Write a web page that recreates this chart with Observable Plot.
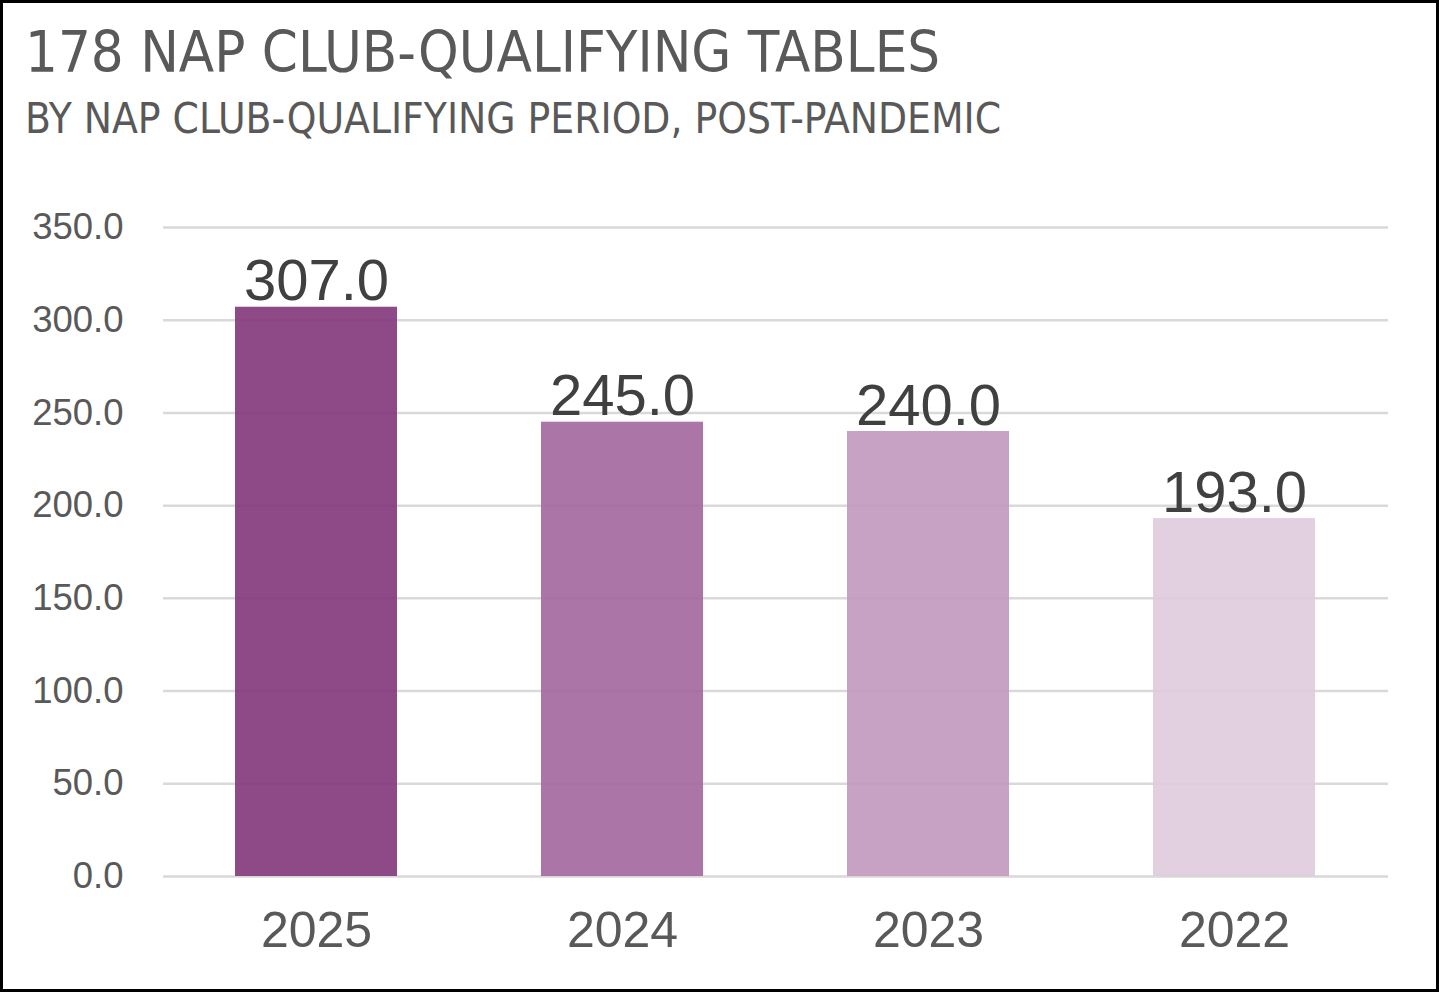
<!DOCTYPE html>
<html>
<head>
<meta charset="utf-8">
<script src="https://cdn.jsdelivr.net/npm/d3@7"></script>
<script src="https://cdn.jsdelivr.net/npm/@observablehq/plot@0.6"></script>
<style>
  html, body { margin: 0; padding: 0; background: #fff; }
  body { width: 1439px; height: 992px; position: relative; overflow: hidden; }
  #frame { position: absolute; left: 0; top: 0; width: 1439px; height: 992px; box-sizing: border-box; border: 3px solid #000; pointer-events: none; z-index: 5; }
  .t { position: absolute; left: 25px; color: #595959; font-family: "Liberation Sans Narrow", "DejaVu Sans Condensed", "Roboto", sans-serif; line-height: 1; white-space: nowrap; font-stretch: condensed; }
  #title { top: 24px; font-size: 57.5px; }
  #subtitle { top: 98px; font-size: 42px; }
  #chart { position: absolute; left: 0; top: 160px; }
</style>
</head>
<body>
<div id="frame"></div>
<div id="title" class="t">178 NAP CLUB-QUALIFYING TABLES</div>
<div id="subtitle" class="t">BY NAP CLUB-QUALIFYING PERIOD, POST-PANDEMIC</div>
<div id="chart"></div>
<script>
const periods = ["2025", "2024", "2023", "2022"];
const tables = [307, 245, 240, 193];
const barColors = ["#813679", "#A2679D", "#C198BF", "#DFCBDE"];
const yTicks = [0, 50, 100, 150, 200, 250, 300, 350];

const data = periods.map((p, i) => ({period: p, value: tables[i], color: barColors[i]}));

const chart = Plot.plot({
  width: 1439,
  height: 832,
  marginTop: 67,
  marginBottom: 116,
  marginLeft: 163,
  marginRight: 51,
  style: {fontFamily: "'Liberation Sans', Arial, sans-serif", background: "transparent", overflow: "visible"},
  x: {domain: periods, paddingInner: 0.47, paddingOuter: 0.235, label: null},
  y: {domain: [0, 350], label: null},
  marks: [
    Plot.gridY(yTicks, {stroke: "#d9d9d9", strokeOpacity: 1, strokeWidth: 2.5}),
    Plot.barY(data, {x: "period", y: "value", fill: "color", fillOpacity: 0.9}),
    Plot.axisY(yTicks, {tickSize: 0, tickPadding: 40, tickFormat: d3.format(".1f"), fontSize: 36.5, fill: "#595959", label: null}),
    Plot.axisX({tickSize: 0, tickPadding: 35, fontSize: 50, fill: "#595959", label: null}),
    Plot.text(data, {x: "period", y: "value", text: d => d3.format(".1f")(d.value), lineAnchor: "middle", dy: -25.5, fontSize: 58, fill: "#404040"})
  ]
});
document.getElementById("chart").appendChild(chart);
</script>
</body>
</html>
